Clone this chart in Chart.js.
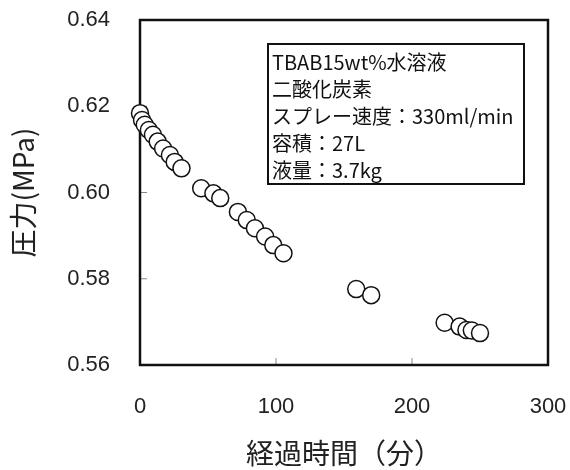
<!DOCTYPE html>
<html>
<head>
<meta charset="utf-8">
<script src="https://cdn.jsdelivr.net/npm/chart.js@4.4.1/dist/chart.umd.min.js"></script>
<style>
  html, body { margin: 0; padding: 0; background: #fff; }
  #wrap { width: 570px; height: 470px; }
</style>
</head>
<body>
<div id="wrap"><canvas id="myChart" width="570" height="470"></canvas></div>
<script>
// elapsed time (min) and pressure (MPa)
const timeMin = [0, 1.5, 3.5, 6.5, 9.5, 13, 17, 22, 25.5, 30.5,
                 45, 54, 59, 72, 78.5, 84.5, 92, 98, 105.5,
                 159, 170, 224, 235, 240, 244, 250];
const pressure = [0.6184, 0.6168, 0.6157, 0.6145, 0.6134, 0.6118, 0.6102, 0.6087, 0.6071, 0.6056,
                  0.6010, 0.5998, 0.5987, 0.5955, 0.5936, 0.5917, 0.5898, 0.5878, 0.5859,
                  0.5776, 0.5762, 0.5698, 0.5689, 0.5681, 0.5680, 0.5674];

const xTicks = [0, 100, 200, 300];
const yTicks = [0.56, 0.58, 0.60, 0.62, 0.64];

const noteLines = ['TBAB15wt%水溶液', '二酸化炭素', 'スプレー速度：330ml/min', '容積：27L', '液量：3.7kg'];

const cjk = "'Noto Sans CJK JP', sans-serif";
const latin = "'Liberation Sans', Arial, sans-serif";

// Frame round the plot area plus short inward tick marks
const framePlugin = {
    id: 'frame',
    beforeDatasetsDraw(chart) {
        const { ctx, chartArea: a, scales } = chart;
        ctx.save();
        ctx.strokeStyle = '#888';
        ctx.lineWidth = 1;
        xTicks.slice(1, -1).forEach(v => {
            const px = scales.x.getPixelForValue(v);
            ctx.beginPath();
            ctx.moveTo(px, a.bottom);
            ctx.lineTo(px, a.bottom - 7);
            ctx.stroke();
        });
        yTicks.slice(1, -1).forEach(v => {
            const py = scales.y.getPixelForValue(v);
            ctx.beginPath();
            ctx.moveTo(a.left, py);
            ctx.lineTo(a.left + 7, py);
            ctx.stroke();
        });
        ctx.strokeStyle = '#111';
        ctx.lineWidth = 2.5;
        ctx.strokeRect(a.left, a.top, a.right - a.left, a.bottom - a.top);
        ctx.restore();
    }
};

// Condition note box in the upper right
const notePlugin = {
    id: 'note',
    afterDraw(chart) {
        const { ctx } = chart;
        const x = 268, y = 44, w = 256, h = 140;
        ctx.save();
        ctx.fillStyle = '#fff';
        ctx.fillRect(x, y, w, h);
        ctx.strokeStyle = '#111';
        ctx.lineWidth = 2;
        ctx.strokeRect(x, y, w, h);
        ctx.fillStyle = '#111';
        ctx.font = '20px ' + cjk;
        ctx.textBaseline = 'middle';
        noteLines.forEach((t, i) => {
            ctx.fillText(t, x + 4, y + 18 + i * 27);
        });
        ctx.restore();
    }
};

function noPad(s) {
    s.paddingLeft = 0;
    s.paddingRight = 0;
    s.paddingTop = 0;
    s.paddingBottom = 0;
}

const ctx = document.getElementById('myChart').getContext('2d');
new Chart(ctx, {
    type: 'scatter',
    data: {
        datasets: [{
            label: '圧力',
            data: timeMin.map((t, i) => ({ x: t, y: pressure[i] })),
            pointRadius: 8.5,
            pointHoverRadius: 8.5,
            pointBackgroundColor: '#fff',
            pointBorderColor: '#111',
            pointBorderWidth: 1.5,
            clip: false
        }]
    },
    options: {
        responsive: false,
        animation: false,
        layout: { padding: { top: 20, right: 22, left: 0, bottom: 0 } },
        plugins: {
            legend: { display: false },
            tooltip: { enabled: false }
        },
        scales: {
            x: {
                type: 'linear',
                min: 0,
                max: 300,
                afterBuildTicks: s => { s.ticks = xTicks.map(v => ({ value: v })); },
                afterFit: s => { s.height = 105; noPad(s); },
                grid: { display: false, drawTicks: false },
                border: { display: false },
                ticks: {
                    padding: 29,
                    color: '#222',
                    font: { family: latin, size: 22 },
                    callback: v => String(v)
                },
                title: {
                    display: true,
                    text: '経過時間（分）',
                    color: '#222',
                    font: { family: cjk, size: 28 },
                    padding: { top: 0, bottom: 0 }
                }
            },
            y: {
                min: 0.56,
                max: 0.64,
                afterBuildTicks: s => { s.ticks = yTicks.map(v => ({ value: v })); },
                afterFit: s => { s.width = 140; noPad(s); },
                grid: { display: false, drawTicks: false },
                border: { display: false },
                ticks: {
                    padding: 30,
                    color: '#222',
                    font: { family: latin, size: 22 },
                    callback: v => v.toFixed(2)
                },
                title: {
                    display: true,
                    text: '圧力(MPa)',
                    color: '#222',
                    font: { family: cjk, size: 28 },
                    padding: { top: 7, bottom: 0 }
                }
            }
        }
    },
    plugins: [framePlugin, notePlugin]
});
</script>
</body>
</html>
